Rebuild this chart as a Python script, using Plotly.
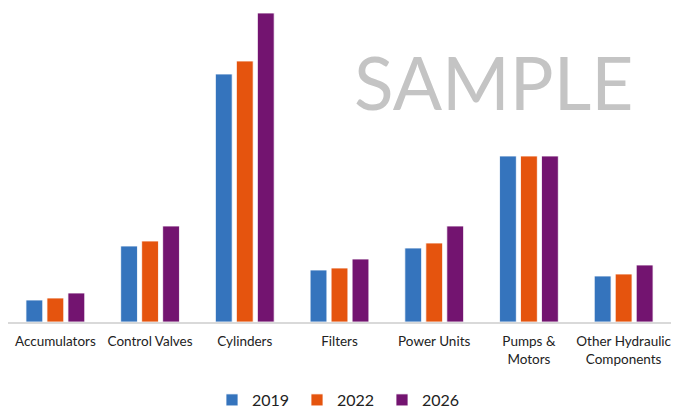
import plotly.graph_objects as go

categories = ["Accumulators", "Control Valves", "Cylinders", "Filters", "Power Units",
              "Pumps &<br>Motors", "Other Hydraulic<br>Components"]
years = ["2019", "2022", "2026"]
v2019 = [22, 76, 248, 52, 74, 166, 46]
v2022 = [24, 81, 261, 54, 79, 166, 48]
v2026 = [29, 96, 309, 63, 96, 166, 57]
colors = ["#3574BD", "#E5540E", "#731470"]

fig = go.Figure()
for name, vals, c in zip(years, [v2019, v2022, v2026], colors):
    fig.add_trace(go.Bar(x=categories, y=vals, name=name,
                         marker=dict(color=c, line=dict(color="white", width=0.8))))

fig.update_layout(
    width=683, height=410,
    margin=dict(l=8, r=12, t=10, b=88, autoexpand=False),
    paper_bgcolor="white", plot_bgcolor="white",
    barmode="group", bargap=0.335, bargroupgap=0.2,
    font=dict(family="Lato, Open Sans, sans-serif", color="#222"),
    showlegend=True,
    legend=dict(orientation="h", x=0.5, xanchor="center", y=-0.25, yanchor="middle",
                font=dict(size=16, color="#222"),
                traceorder="normal",
                itemwidth=30, entrywidth=40, entrywidthmode="pixels"),
    xaxis=dict(showline=True, linecolor="#D9D9D9", linewidth=1.5, ticks="",
               tickfont=dict(size=13.5, color="#222"), showgrid=False, fixedrange=True,
               ticklabelstandoff=6, automargin=False),
    yaxis=dict(visible=False, range=[0, 312], showgrid=False),
    annotations=[dict(text="SAMPLE", x=0.733, y=0.77, xref="paper", yref="paper",
                      xanchor="center", yanchor="middle",
                      showarrow=False, font=dict(size=73, color="#C4C4C4",
                                                 family="Lato, Open Sans, sans-serif"))],
)
fig.write_html("out.html", config={"displayModeBar": False})

with open("out.html", encoding="utf-8") as f:
    html = f.read()
html = html.replace("<head>", "<head><style>html,body{margin:0;padding:0;overflow:hidden}</style>", 1)
with open("out.html", "w", encoding="utf-8") as f:
    f.write(html)
